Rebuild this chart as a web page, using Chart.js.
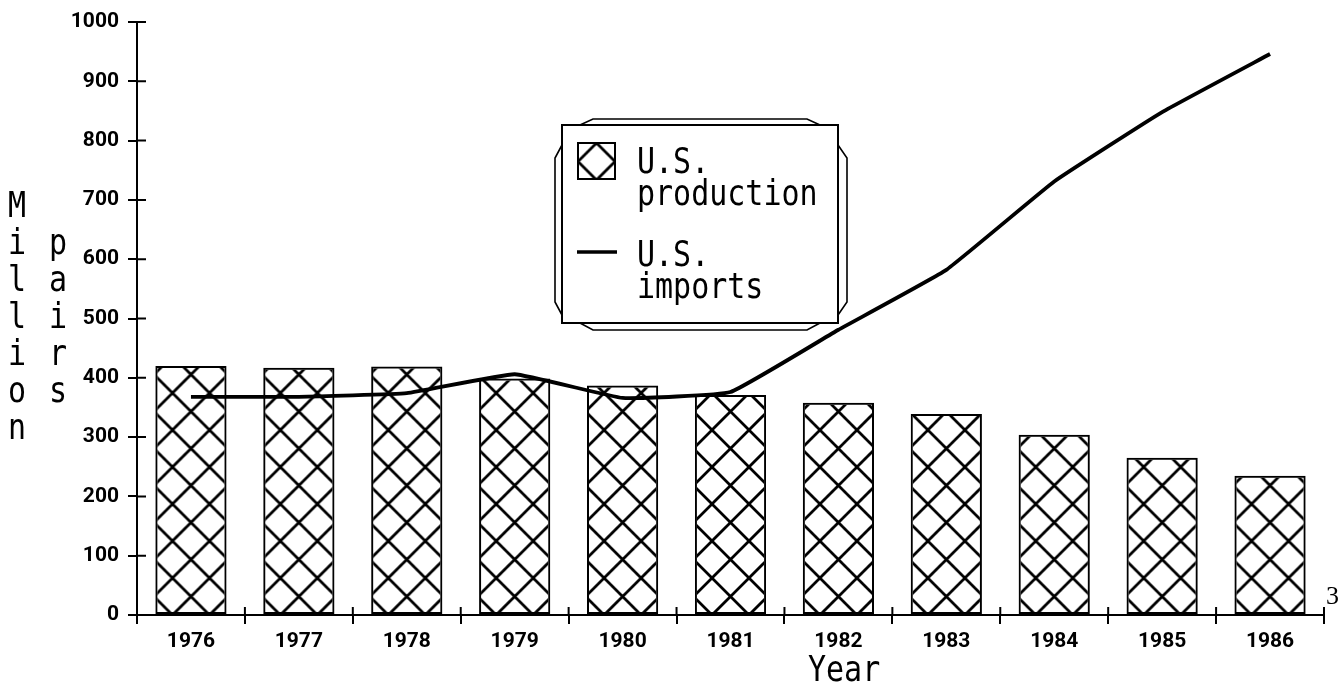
<!DOCTYPE html>
<html>
<head>
<meta charset="utf-8">
<script src="https://cdn.jsdelivr.net/npm/chart.js@4.4.1/dist/chart.umd.min.js"></script>
<style>
  html, body { margin: 0; padding: 0; background: #fff; }
  #wrap { position: relative; width: 1338px; height: 700px; }
</style>
</head>
<body>
<div id="wrap"><canvas id="c" width="1338" height="700"></canvas></div>
<script>
// ---- data ----
const years = ['1976','1977','1978','1979','1980','1981','1982','1983','1984','1985','1986'];
const usProduction = [420, 417, 419, 399, 387, 371, 358, 339, 304, 265, 235];
const usImports = [368, 368, 374, 406, 366, 376, 481, 582, 731, 848, 946];
const yTickValues = [0, 100, 200, 300, 400, 500, 600, 700, 800, 900, 1000];
const seriesNames = [['U.S.', 'production'], ['U.S.', 'imports']];
const yTitleCols = [['M','i','l','l','i','o','n'], ['', 'p','a','i','r','s']];
const xTitle = 'Year';

const tickFont = "Roboto, 'DejaVu Sans Condensed', sans-serif";
const monoFont = "'DejaVu Sans Mono', 'Liberation Mono', monospace";
const TILE = 37;

function makeHatch(ctx, ox, oy) {
  const c = document.createElement('canvas');
  c.width = TILE; c.height = TILE;
  const g = c.getContext('2d');
  g.strokeStyle = '#000';
  g.lineWidth = 2.8;
  g.lineCap = 'square';
  g.beginPath();
  for (const k of [-TILE, 0, TILE]) {
    g.moveTo(k, 0); g.lineTo(k + TILE, TILE);
    g.moveTo(k, TILE); g.lineTo(k + TILE, 0);
  }
  g.stroke();
  const p = ctx.createPattern(c, 'repeat');
  p.setTransform(new DOMMatrix([1, 0, 0, 1, ox, oy]));
  return p;
}

const decor = {
  id: 'decor',
  afterDraw(chart) {
    const { ctx, chartArea: a, scales: { x, y } } = chart;
    ctx.save();
    ctx.strokeStyle = '#000';
    ctx.fillStyle = '#000';
    ctx.lineWidth = 2;
    // inner halves of y ticks
    ctx.beginPath();
    y.ticks.forEach((t, i) => {
      const py = y.getPixelForTick(i);
      ctx.moveTo(a.left, py); ctx.lineTo(a.left + 9, py);
    });
    // inner halves of x ticks (category boundaries)
    const step = x.getPixelForValue(1) - x.getPixelForValue(0);
    for (let i = 0; i <= years.length; i++) {
      const px = x.getPixelForValue(0) - step / 2 + i * step;
      ctx.moveTo(px, a.bottom); ctx.lineTo(px, a.bottom - 8);
    }
    // small left extension of the x axis past the y axis
    ctx.moveTo(a.left - 8, a.bottom); ctx.lineTo(a.left, a.bottom);
    ctx.stroke();

    // y title: stacked letters
    ctx.font = '30px ' + monoFont;
    ctx.textAlign = 'center';
    ctx.textBaseline = 'middle';
    const colX = [17, 58];
    yTitleCols.forEach((col, ci) => {
      col.forEach((ch, ri) => {
        if (!ch) return;
        ctx.save();
        ctx.translate(colX[ci], 208 + ri * 37);
        ctx.scale(1, 1.2);
        ctx.fillText(ch, 0, 0);
        ctx.restore();
      });
    });

    // x title
    ctx.save();
    ctx.textAlign = 'left';
    ctx.textBaseline = 'alphabetic';
    ctx.translate(808, 681);
    ctx.scale(1, 1.2);
    ctx.fillText(xTitle, 0, 0);
    ctx.restore();

    // page number
    ctx.save();
    ctx.font = '26px "Liberation Serif", serif';
    ctx.textAlign = 'left';
    ctx.textBaseline = 'alphabetic';
    ctx.fillText('3', 1326, 604);
    ctx.restore();

    // legend box
    const L = 562, R = 838, T = 125, B = 323;
    ctx.fillStyle = '#fff';
    ctx.fillRect(L, T, R - L, B - T);
    ctx.lineWidth = 2;
    ctx.strokeRect(L, T, R - L, B - T);
    ctx.lineWidth = 1.6;
    ctx.beginPath();
    ctx.moveTo(580, T); ctx.lineTo(593, 119); ctx.lineTo(807, 119); ctx.lineTo(820, T);
    ctx.moveTo(580, B); ctx.lineTo(593, 330); ctx.lineTo(807, 330); ctx.lineTo(820, B);
    ctx.moveTo(L, 145); ctx.lineTo(555, 158); ctx.lineTo(555, 302); ctx.lineTo(L, 315);
    ctx.moveTo(R, 145); ctx.lineTo(847, 158); ctx.lineTo(847, 302); ctx.lineTo(R, 315);
    ctx.stroke();

    // legend swatch (hatched square)
    ctx.fillStyle = makeHatch(ctx, 578 + 18.5, 143);
    ctx.fillRect(578, 143, 37, 36);
    ctx.lineWidth = 2;
    ctx.strokeRect(578, 143, 37, 36);
    // legend line sample
    ctx.lineWidth = 3.5;
    ctx.beginPath();
    ctx.moveTo(577, 252); ctx.lineTo(617, 252);
    ctx.stroke();

    // legend text
    ctx.fillStyle = '#000';
    ctx.font = '30px ' + monoFont;
    ctx.textAlign = 'left';
    ctx.textBaseline = 'alphabetic';
    const baselines = [[173, 205], [266, 298]];
    seriesNames.forEach((lines, si) => {
      lines.forEach((txt, li) => {
        ctx.save();
        ctx.translate(637, baselines[si][li]);
        ctx.scale(1, 1.2);
        ctx.fillText(txt, 0, 0);
        ctx.restore();
      });
    });
    ctx.restore();
  }
};

const chart = new Chart(document.getElementById('c'), {
  type: 'bar',
  data: {
    labels: years,
    datasets: [
      {
        type: 'line',
        label: 'U.S. imports',
        data: usImports,
        borderColor: '#000',
        borderWidth: 3.8,
        pointRadius: 0,
        tension: 0.1,
        fill: false,
        order: 0
      },
      {
        type: 'bar',
        label: 'U.S. production',
        data: usProduction,
        backgroundColor: (c) => {
          const ch = c.chart;
          const xs = ch.scales.x, ys = ch.scales.y;
          if (!xs || !ys || c.dataIndex === undefined) return '#fff';
          const cx = xs.getPixelForValue(c.dataIndex);
          return makeHatch(ch.ctx, cx + TILE / 2, ys.getPixelForValue(0));
        },
        borderColor: '#000',
        borderWidth: 2,
        borderSkipped: false,
        categoryPercentage: 1.0,
        barPercentage: 0.66,
        order: 1
      }
    ]
  },
  options: {
    responsive: false,
    animation: false,
    devicePixelRatio: 1,
    layout: { padding: { left: 0, right: 14, top: 22, bottom: 0 } },
    plugins: { legend: { display: false }, tooltip: { enabled: false } },
    scales: {
      x: {
        grid: { offset: true, drawOnChartArea: false, color: '#000', lineWidth: 2, tickLength: 9 },
        border: { color: '#000', width: 2 },
        ticks: { color: '#000', font: { family: tickFont, size: 21, weight: 'bold' }, padding: 5, maxRotation: 0, autoSkip: false },
        afterFit(s) { s.height = 85; }
      },
      y: {
        min: 0, max: 1000,
        afterBuildTicks(s) { s.ticks = yTickValues.map(v => ({ value: v })); },
        grid: { drawOnChartArea: false, color: '#000', lineWidth: 2, tickLength: 9 },
        border: { color: '#000', width: 2 },
        ticks: { color: '#000', font: { family: tickFont, size: 21, weight: 'bold' }, padding: 9, callback: (v) => String(v) },
        afterFit(s) { s.width = 137; }
      }
    }
  },
  plugins: [decor]
});
</script>
</body>
</html>
